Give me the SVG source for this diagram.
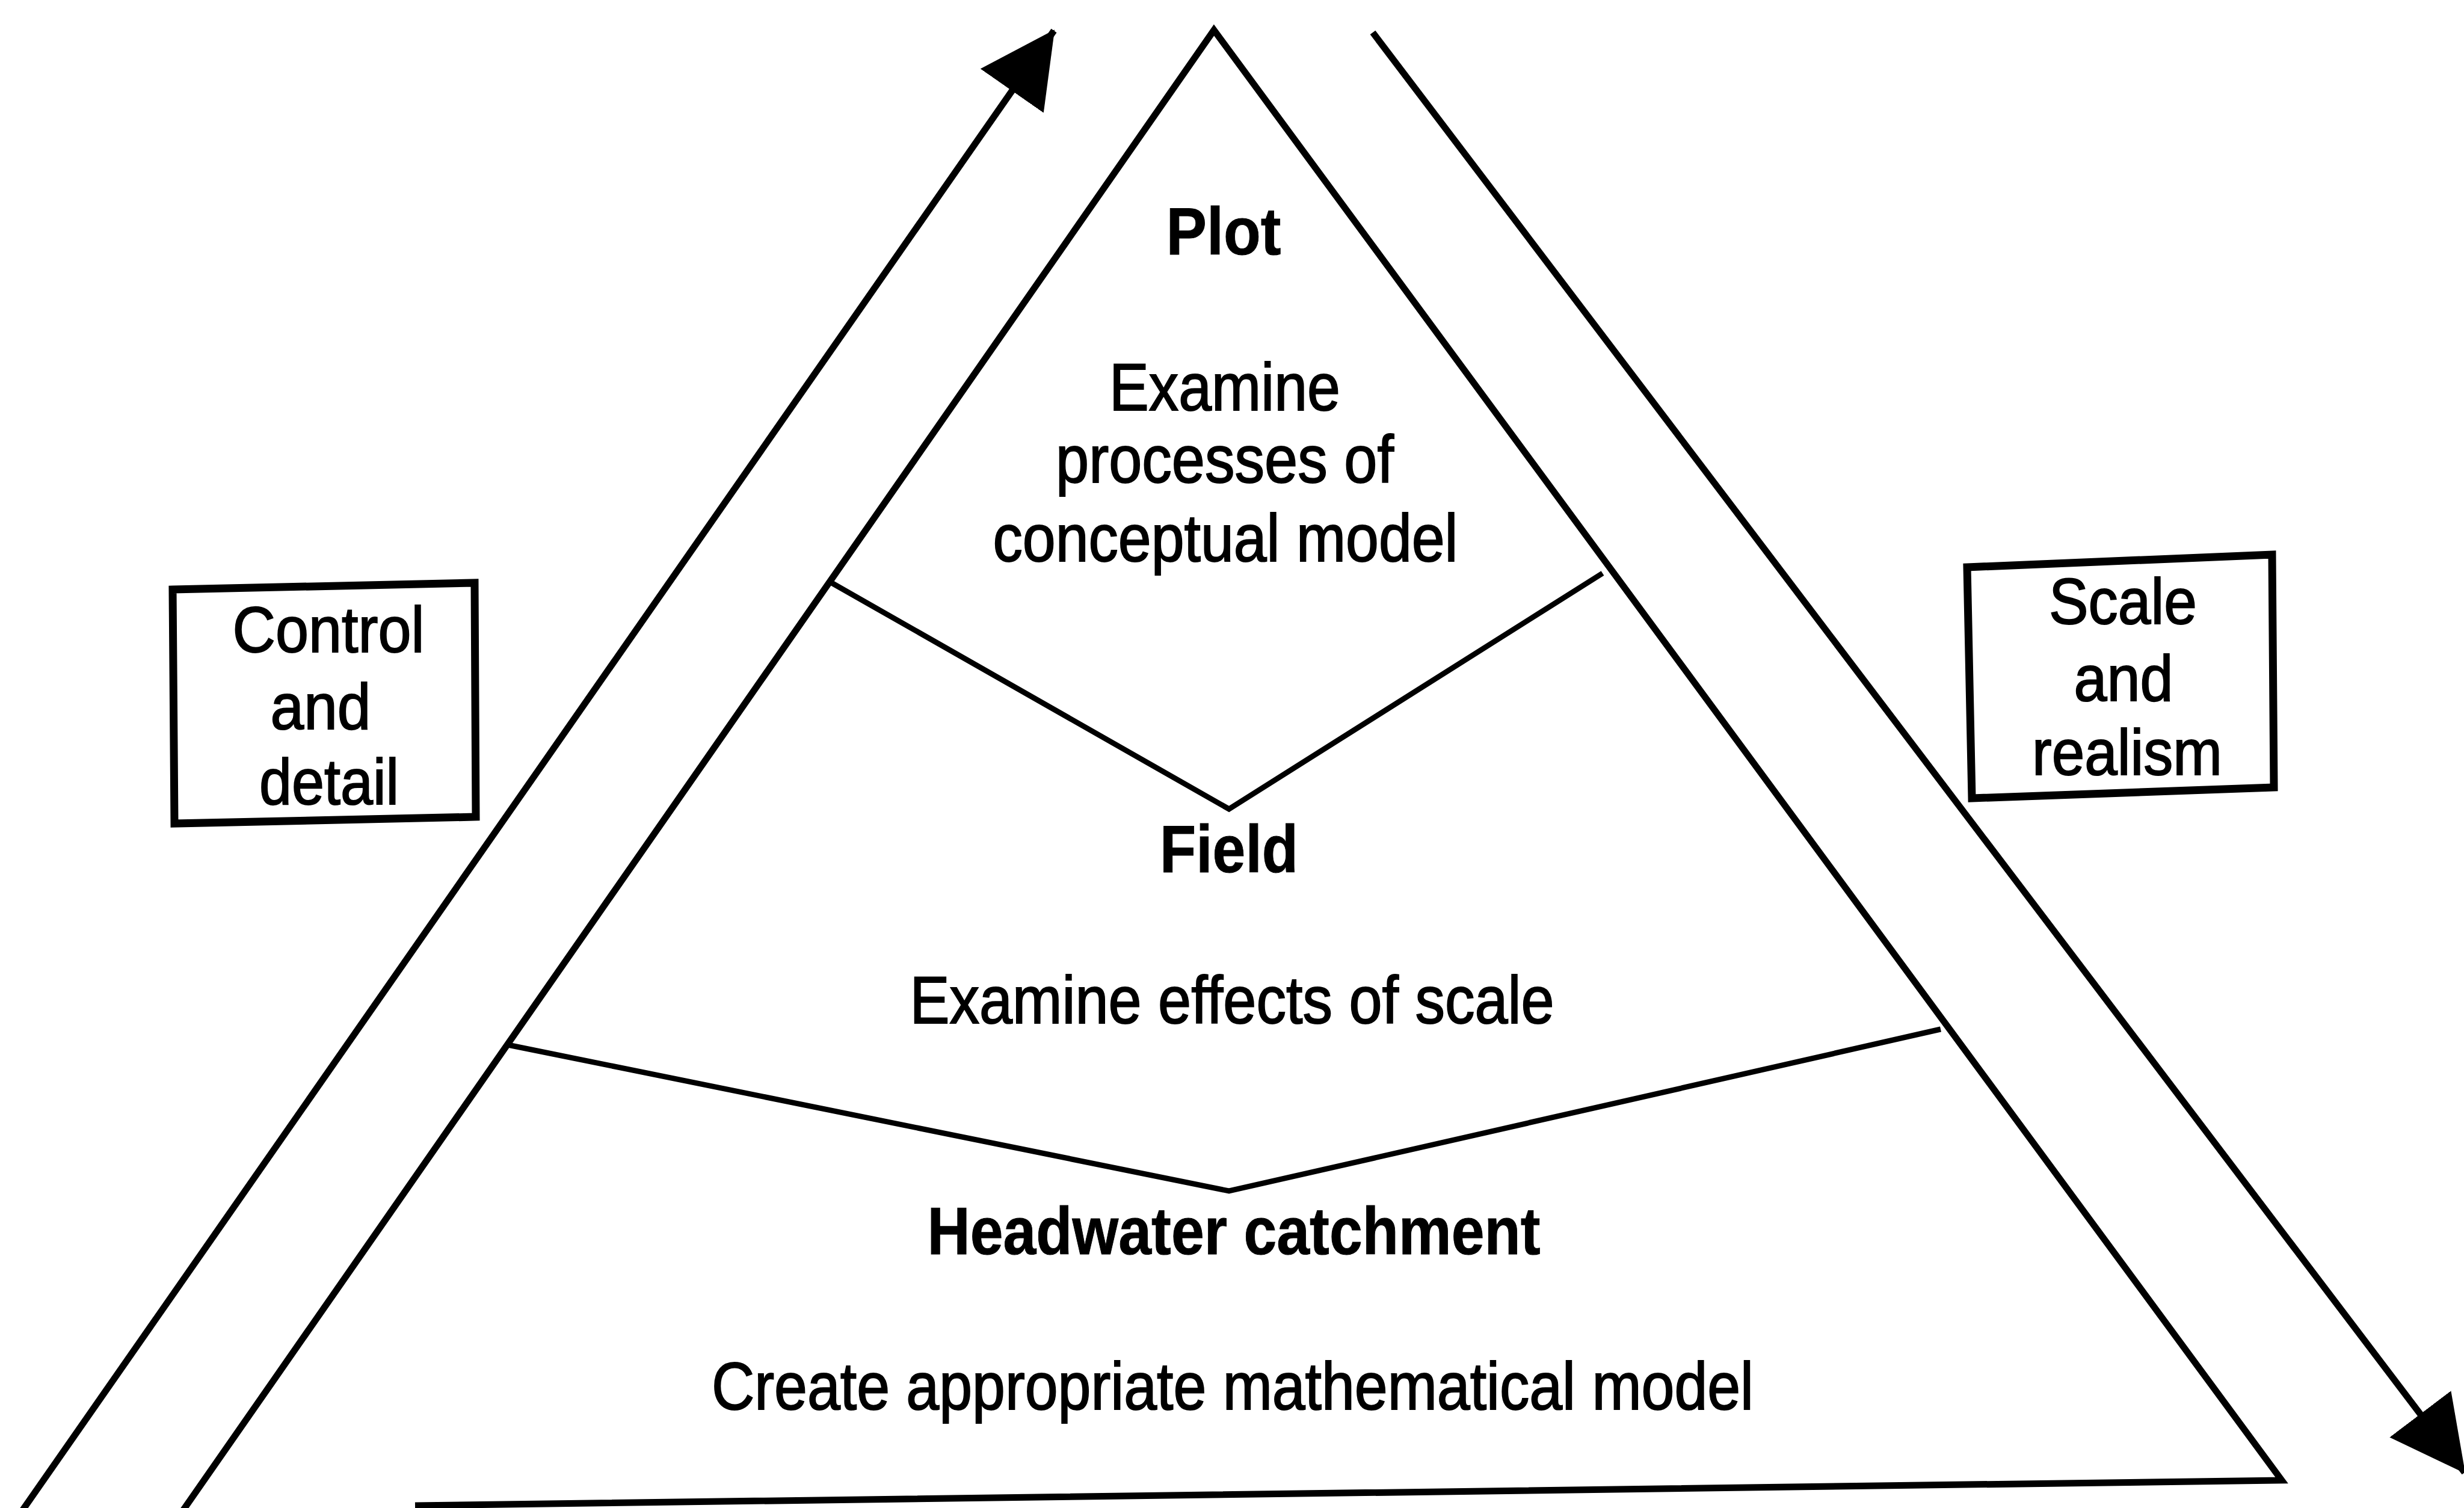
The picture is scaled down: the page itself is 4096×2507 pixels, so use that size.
<svg xmlns="http://www.w3.org/2000/svg" width="4096" height="2507" viewBox="0 0 4096 2507">
  <style>
    .ln { fill: none; stroke: #000; stroke-linejoin: miter; stroke-linecap: butt; }
    .side { stroke-width: 11; }
    .div { stroke-width: 9; }
    .box { fill: #fff; stroke: #000; stroke-width: 13; stroke-linejoin: miter; }
    .shaft { fill: none; stroke: #000; stroke-width: 11; }
    .t { font-family: "Liberation Sans", Arial, Helvetica, sans-serif; font-size: 112px; fill: #000; stroke: #000; stroke-width: 2; text-anchor: middle; }
    .b { font-weight: bold; stroke-width: 1; }
    .bt { font-size: 108px; }
  </style>
  <defs>
    <marker id="head" markerUnits="userSpaceOnUse" markerWidth="124" markerHeight="128" viewBox="0 0 122 126" refX="120" refY="63" orient="auto">
      <path d="M0,0 L122,63 L0,126 Z" fill="#000"/>
    </marker>
  </defs>
  <rect width="4096" height="2507" fill="#fff"/>

  <g id="triangle">
    <polyline class="ln side" points="284,2540 2018,50 3793,2461 690,2503"/>
    <polyline class="ln div" points="1379,967 2043,1345 2664,953"/>
    <polyline class="ln div" points="844,1737 2043,1980 3226,1711"/>
  </g>

  <g id="level-plot">
    <text class="t b" x="2034" y="423" textLength="191" lengthAdjust="spacingAndGlyphs">Plot</text>
    <text class="t" x="2036" y="682" textLength="384" lengthAdjust="spacingAndGlyphs">Examine</text>
    <text class="t" x="2036" y="802" textLength="562" lengthAdjust="spacingAndGlyphs">processes of</text>
    <text class="t" x="2037" y="933" textLength="773" lengthAdjust="spacingAndGlyphs">conceptual model</text>
  </g>

  <g id="level-field">
    <text class="t b" x="2043" y="1450" textLength="230" lengthAdjust="spacingAndGlyphs">Field</text>
    <text class="t" x="2048" y="1701" textLength="1071" lengthAdjust="spacingAndGlyphs">Examine effects of scale</text>
  </g>

  <g id="level-headwater">
    <text class="t b" x="2051" y="2085" textLength="1019" lengthAdjust="spacingAndGlyphs">Headwater catchment</text>
    <text class="t" x="2049" y="2343" textLength="1732" lengthAdjust="spacingAndGlyphs">Create appropriate mathematical model</text>
  </g>

  <g id="box-control">
    <polygon class="box" points="287,980 789,969 791,1358 290,1369"/>
    <text class="t bt" x="546" y="1084" textLength="319" lengthAdjust="spacingAndGlyphs">Control</text>
    <text class="t bt" x="533" y="1212" textLength="167" lengthAdjust="spacingAndGlyphs">and</text>
    <text class="t bt" x="547" y="1337" textLength="232" lengthAdjust="spacingAndGlyphs">detail</text>
  </g>

  <g id="box-scale">
    <polygon class="box" points="3270,943 3777,922 3780,1309 3278,1327"/>
    <text class="t bt" x="3529" y="1037" textLength="246" lengthAdjust="spacingAndGlyphs">Scale</text>
    <text class="t bt" x="3530" y="1165" textLength="165" lengthAdjust="spacingAndGlyphs">and</text>
    <text class="t bt" x="3536" y="1288" textLength="316" lengthAdjust="spacingAndGlyphs">realism</text>
  </g>

  <g id="connectors">
    <line id="arrow-control" class="shaft" x1="17" y1="2540" x2="1752" y2="51" marker-end="url(#head)"/>
    <line id="arrow-scale" class="shaft" x1="2282" y1="54" x2="4097" y2="2448" marker-end="url(#head)"/>
  </g>
</svg>
